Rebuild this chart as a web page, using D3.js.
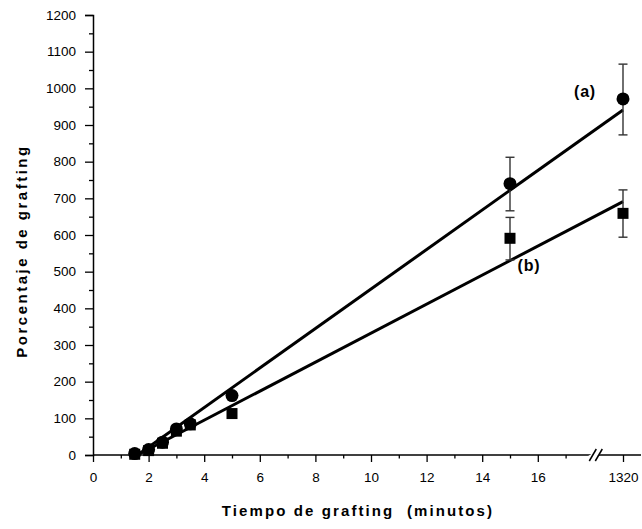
<!DOCTYPE html>
<html>
<head>
<meta charset="utf-8">
<script src="https://cdn.jsdelivr.net/npm/d3@7"></script>
<style>
  body { margin: 0; background: #fff; }
  svg { display: block; font-family: "Liberation Sans", Arial, sans-serif; }
</style>
</head>
<body>
<svg id="chart"></svg>
<script>
// tiempo (minutos) for each measurement
const times = [1.5, 2, 2.5, 3, 3.5, 5, 15, 1320];
// serie (a): circulos
const seriesA = [4, 15, 35, 71, 85, 162, 740, 971];
const errA = [null, null, null, null, null, null, [666, 812], [873, 1066]];
// serie (b): cuadrados
const seriesB = [2, 12, 32, 65, 82, 113, 591, 659];
const errB = [null, null, null, null, null, null, [532, 648], [594, 723]];
// rectas de ajuste: [x, y] inicio y fin
const fitA = [[1.6, 0], [1320, 941]];
const fitB = [[1.6, 0], [1320, 691]];

const xMajor = [0, 2, 4, 6, 8, 10, 12, 14, 16, 1320];
const xMinor = [1, 3, 5, 7, 9, 11, 13, 15, 17];
const yMajor = d3.range(0, 1201, 100);
const yMinor = d3.range(50, 1200, 100);

const W = 642, H = 529;
const svg = d3.select('#chart').attr('width', W).attr('height', H);

// broken axis: linear 0..18, then jump to 1320
const x = d3.scaleLinear()
  .domain([0, 18, 1320])
  .range([93, 93 + 18 * 27.8, 623]);
const y = d3.scaleLinear().domain([0, 1200]).range([455, 15]);

// y axis
const yAxis = d3.axisLeft(y).tickValues(yMajor).tickSize(8).tickPadding(9).tickFormat(d3.format('d'));
const gy = svg.append('g').attr('transform', `translate(${x(0)},0)`).call(yAxis);
gy.select('.domain').attr('stroke-width', 1.5);
gy.selectAll('.tick line').attr('stroke-width', 1.3);
gy.selectAll('text').attr('font-size', 13.5).attr('fill', '#000');
svg.append('g').attr('transform', `translate(${x(0)},0)`)
  .call(d3.axisLeft(y).tickValues(yMinor).tickSize(4).tickFormat(''))
  .call(g => g.select('.domain').remove())
  .selectAll('line').attr('stroke-width', 1.3);

// x axis
const gx = svg.append('g').attr('transform', `translate(0,${y(0)})`)
  .call(d3.axisBottom(x).tickValues(xMajor).tickSize(7).tickPadding(10)
    .tickSizeOuter(0).tickFormat(d3.format('d')));
gx.select('.domain').attr('d', `M${x(0)},0H641`).attr('stroke-width', 1.5);
gx.selectAll('.tick line').attr('stroke-width', 1.3);
gx.selectAll('text').attr('font-size', 13.5).attr('fill', '#000');
svg.append('g').attr('transform', `translate(0,${y(0)})`)
  .call(d3.axisBottom(x).tickValues(xMinor).tickSize(3.5).tickFormat(''))
  .call(g => g.select('.domain').remove())
  .selectAll('line').attr('stroke-width', 1.3);

// break marks
const bx = (x(17) + x(1320)) / 2 + 2;
const brk = svg.append('g').attr('transform', `translate(${bx},${y(0)})`);
brk.append('line').attr('x1', -10).attr('x2', 6).attr('y1', 5).attr('y2', -5)
  .attr('stroke', '#fff').attr('stroke-width', 5);
[-3, 3].forEach(dx => {
  brk.append('line').attr('x1', dx - 4).attr('y1', 6).attr('x2', dx + 3).attr('y2', -6)
    .attr('stroke', '#000').attr('stroke-width', 1.5);
});

// axis titles
svg.append('text')
  .attr('x', 358).attr('y', 516).attr('text-anchor', 'middle')
  .attr('font-size', 15).attr('font-weight', 'bold').attr('letter-spacing', 2.1)
  .attr('xml:space', 'preserve')
  .text('Tiempo de grafting  (minutos)');
svg.append('text')
  .attr('transform', `translate(27,251) rotate(-90)`)
  .attr('text-anchor', 'middle')
  .attr('font-size', 15).attr('font-weight', 'bold').attr('letter-spacing', 2.5)
  .text('Porcentaje de grafting');

// fit lines
const line = d3.line().x(d => x(d[0])).y(d => y(d[1]));
[fitA, fitB].forEach(f => {
  svg.append('path').attr('d', line(f))
    .attr('fill', 'none').attr('stroke', '#000').attr('stroke-width', 3);
});

// error bars
function errorBars(errs) {
  errs.forEach((e, i) => {
    if (!e) return;
    const cx = x(times[i]);
    const g = svg.append('g').attr('stroke', '#333').attr('stroke-width', 1.4);
    g.append('line').attr('x1', cx).attr('x2', cx).attr('y1', y(e[0])).attr('y2', y(e[1]));
    e.forEach(v => g.append('line').attr('x1', cx - 4.5).attr('x2', cx + 4.5)
      .attr('y1', y(v)).attr('y2', y(v)));
  });
}
errorBars(errB);
errorBars(errA);

// squares
svg.append('g').selectAll('rect').data(seriesB).join('rect')
  .attr('x', (d, i) => x(times[i]) - 5.5)
  .attr('y', d => y(d) - 5.5)
  .attr('width', 11).attr('height', 11).attr('fill', '#000');

// circles
svg.append('g').selectAll('circle').data(seriesA).join('circle')
  .attr('cx', (d, i) => x(times[i]))
  .attr('cy', d => y(d))
  .attr('r', 6.5).attr('fill', '#000');

// series labels
svg.append('text').attr('x', 585).attr('y', 97).attr('text-anchor', 'middle')
  .attr('font-size', 16).attr('font-weight', 'bold').attr('letter-spacing', 0.8).text('(a)');
svg.append('text').attr('x', 529).attr('y', 271).attr('text-anchor', 'middle')
  .attr('font-size', 16).attr('font-weight', 'bold').attr('letter-spacing', 0.8).text('(b)');
</script>
</body>
</html>
